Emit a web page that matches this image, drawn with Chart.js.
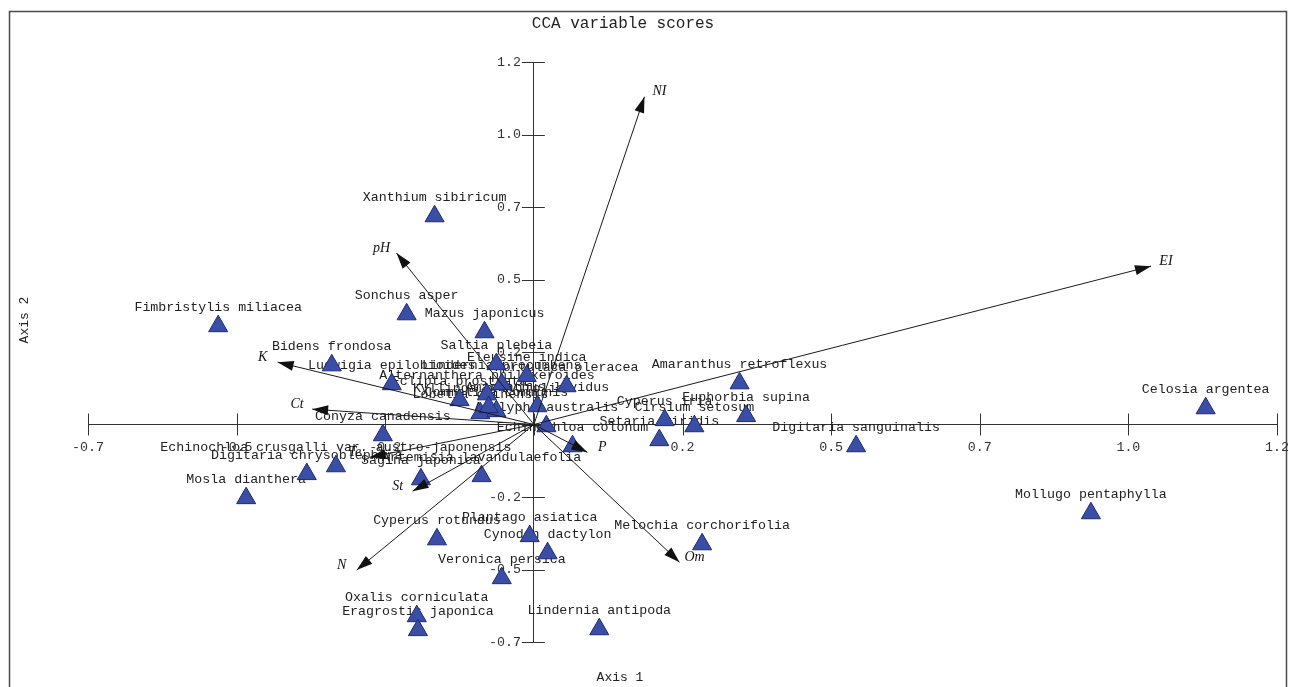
<!DOCTYPE html>
<html>
<head>
<meta charset="utf-8">
<title>CCA variable scores</title>
<script src="https://cdn.jsdelivr.net/npm/chart.js@4.4.1/dist/chart.umd.min.js"></script>
<style>
  html, body { margin: 0; padding: 0; background: #fff; }
  #wrap { position: relative; width: 1289px; height: 687px; }
</style>
</head>
<body>
<div id="wrap"><canvas id="cca" width="1289" height="687"></canvas></div>
<script>
// species scores on axis 1 / axis 2
const speciesNames = [
  'Xanthium sibiricum', 'Fimbristylis miliacea', 'Sonchus asper', 'Mazus japonicus',
  'Bidens frondosa', 'Saltia plebeia', 'Eleusine indica', 'Portulaca oleracea',
  'Ludwigia epilobioides', 'Lindernia procumbens', 'Alternanthera philoxeroides', 'Eclipta prostrata',
  'Amaranthus lividus', 'Lobelia chinensis', 'Commelina communis', 'Kyllinga brevifolia',
  'Acalypha australis', 'Echinochloa colonum', 'Conyza canadensis',
  'Echinochloa crusgalli var. austro-japonensis', 'Digitaria chrysoblephara', 'Mosla dianthera',
  'Sagina japonica', 'Artemisia lavandulaefolia', 'Cyperus iria', 'Euphorbia supina',
  'Cirsium setosum', 'Setaria viridis', 'Amaranthus retroflexus', 'Digitaria sanguinalis',
  'Celosia argentea', 'Mollugo pentaphylla', 'Melochia corchorifolia', 'Cyperus rotundus',
  'Plantago asiatica', 'Cynodon dactylon', 'Veronica persica', 'Oxalis corniculata',
  'Eragrostis japonica', 'Lindernia antipoda'
];
const speciesX = [
  -0.167, -0.531, -0.214, -0.083,
  -0.340, -0.063, -0.012, 0.055,
  -0.239, -0.054, -0.079, -0.125,
  0.006, -0.090, -0.063, -0.076,
  0.021, 0.065, -0.254,
  -0.333, -0.382, -0.484,
  -0.190, -0.088, 0.220, 0.357,
  0.270, 0.211, 0.346, 0.542,
  1.130, 0.937, 0.283, -0.163,
  -0.007, 0.023, -0.054, -0.197,
  -0.195, 0.110
];
const speciesY = [
  0.718, 0.339, 0.380, 0.318,
  0.204, 0.208, 0.167, 0.132,
  0.139, 0.139, 0.104, 0.084,
  0.063, 0.039, 0.046, 0.060,
  -0.006, -0.075, -0.037,
  -0.144, -0.171, -0.254,
  -0.189, -0.178, 0.015, 0.029,
  -0.006, -0.054, 0.142, -0.075,
  0.056, -0.306, -0.413, -0.396,
  -0.385, -0.444, -0.530, -0.661,
  -0.709, -0.706
];

// environmental variable arrows (tips)
const envNames = ['NI', 'EI', 'pH', 'K', 'Ct', 'Te', 'St', 'N', 'P', 'Om'];
const envX = [0.186, 1.038, -0.231, -0.431, -0.373, -0.276, -0.204, -0.298, 0.090, 0.245];
const envY = [1.130, 0.546, 0.591, 0.215, 0.053, -0.113, -0.230, -0.502, -0.096, -0.475];

// tick labels as printed on the plot (steps of 0.25, origin unlabeled)
const xTickLabels = ['-0.7', '-0.5', '-0.2', '', '0.2', '0.5', '0.7', '1.0', '1.2'];
const yTickLabels = ['-0.7', '-0.5', '-0.2', '', '0.2', '0.5', '0.7', '1.0', '1.2'];

const MONO = '"Liberation Mono", "DejaVu Sans Mono", monospace';

function drawHead(ctx, x0, y0, x1, y1) {
  const a = Math.atan2(y1 - y0, x1 - x0);
  const len = 16, half = 5;
  const bx = x1 - len * Math.cos(a), by = y1 - len * Math.sin(a);
  ctx.beginPath();
  ctx.moveTo(x1, y1);
  ctx.lineTo(bx + half * Math.sin(a), by - half * Math.cos(a));
  ctx.lineTo(bx - half * Math.sin(a), by + half * Math.cos(a));
  ctx.closePath();
  ctx.fill();
}

const overlay = {
  id: 'overlay',
  beforeDraw(chart) {
    const ctx = chart.ctx;
    ctx.save();
    ctx.strokeStyle = '#4a4a4a';
    ctx.lineWidth = 1.5;
    ctx.beginPath();
    ctx.moveTo(9.5, 700);
    ctx.lineTo(9.5, 11.5);
    ctx.lineTo(1286.5, 11.5);
    ctx.lineTo(1286.5, 700);
    ctx.stroke();
    ctx.restore();
  },
  beforeDatasetsDraw(chart) {
    const {ctx, scales: {x, y}} = chart;
    const x0 = x.getPixelForValue(0), y0 = y.getPixelForValue(0);
    ctx.save();
    // crossing tick marks
    ctx.strokeStyle = '#333';
    ctx.lineWidth = 1;
    ctx.beginPath();
    x.ticks.forEach(t => {
      const px = Math.round(x.getPixelForValue(t.value)) + 0.5;
      ctx.moveTo(px, y0 - 11);
      ctx.lineTo(px, y0 + 11);
    });
    y.ticks.forEach(t => {
      const py = Math.round(y.getPixelForValue(t.value)) + 0.5;
      ctx.moveTo(x0 - 12, py);
      ctx.lineTo(x0 + 11, py);
    });
    ctx.stroke();
    // y tick labels, left of the crossing ticks
    ctx.font = '13.3px ' + MONO;
    ctx.fillStyle = '#333';
    ctx.textAlign = 'right';
    ctx.textBaseline = 'middle';
    y.ticks.forEach((t, i) => {
      ctx.fillText(yTickLabels[i], x0 - 13, y.getPixelForValue(t.value));
    });
    // species names above their triangles
    ctx.fillStyle = '#222';
    ctx.textAlign = 'center';
    speciesNames.forEach((name, i) => {
      ctx.fillText(name, x.getPixelForValue(speciesX[i]), y.getPixelForValue(speciesY[i]) - 19);
    });
    ctx.restore();
  },
  afterDatasetsDraw(chart) {
    const ctx = chart.ctx;
    ctx.save();
    ctx.fillStyle = '#111';
    ctx.textAlign = 'center';
    ctx.textBaseline = 'middle';
    ctx.font = 'italic 14px "Liberation Serif", "DejaVu Serif", serif';
    chart.data.datasets.forEach((ds, i) => {
      if (!ds.isArrow) return;
      const pts = chart.getDatasetMeta(i).data;
      const p0 = pts[0], p1 = pts[1];
      drawHead(ctx, p0.x, p0.y, p1.x, p1.y);
      const dir = p1.x >= p0.x ? 1 : -1;
      ctx.fillText(ds.label, p1.x + dir * 15, p1.y - 5);
    });
    ctx.restore();
  },
  afterDraw(chart) {
    const ctx = chart.ctx;
    ctx.save();
    ctx.fillStyle = '#222';
    ctx.textAlign = 'center';
    ctx.textBaseline = 'middle';
    ctx.font = '16px ' + MONO;
    ctx.fillText('CCA variable scores', 623, 24);
    ctx.font = '13px ' + MONO;
    ctx.fillText('Axis 1', 620, 678);
    ctx.translate(25, 320);
    ctx.rotate(-Math.PI / 2);
    ctx.fillText('Axis 2', 0, 0);
    ctx.restore();
  }
};

const arrowSets = envNames.map((name, i) => ({
  label: name,
  isArrow: true,
  data: [{x: 0, y: 0}, {x: envX[i], y: envY[i]}],
  showLine: true,
  borderColor: '#1a1a1a',
  borderWidth: 1,
  pointRadius: 0,
  order: 1
}));

const speciesSet = {
  label: 'Species',
  data: speciesX.map((v, i) => ({x: v, y: speciesY[i]})),
  pointStyle: 'triangle',
  pointRadius: 11,
  backgroundColor: '#3a4ea6',
  borderColor: '#1c2b78',
  borderWidth: 1,
  order: 2
};

new Chart(document.getElementById('cca'), {
  type: 'scatter',
  data: { datasets: [...arrowSets, speciesSet] },
  options: {
    responsive: false,
    animation: false,
    events: [],
    layout: { padding: { left: 88, top: 62, right: 11, bottom: 45 } },
    plugins: {
      legend: { display: false },
      title: { display: false },
      tooltip: { enabled: false }
    },
    scales: {
      x: {
        type: 'linear',
        min: -0.75,
        max: 1.25,
        position: { y: 0 },
        afterFit: s => { s.paddingLeft = 0; s.paddingRight = 0; },
        grid: { display: false, drawTicks: false },
        border: { display: true, color: '#333', width: 1 },
        ticks: {
          stepSize: 0.25,
          autoSkip: false,
          maxRotation: 0,
          padding: 15,
          color: '#333',
          font: { family: MONO, size: 13.3 },
          callback: (v, i) => xTickLabels[i]
        }
      },
      y: {
        type: 'linear',
        min: -0.75,
        max: 1.25,
        position: { x: 0 },
        afterFit: s => { s.paddingTop = 0; s.paddingBottom = 0; },
        grid: { display: false, drawTicks: false },
        border: { display: true, color: '#333', width: 1 },
        ticks: {
          stepSize: 0.25,
          autoSkip: false,
          display: false
        }
      }
    }
  },
  plugins: [overlay]
});
</script>
</body>
</html>
